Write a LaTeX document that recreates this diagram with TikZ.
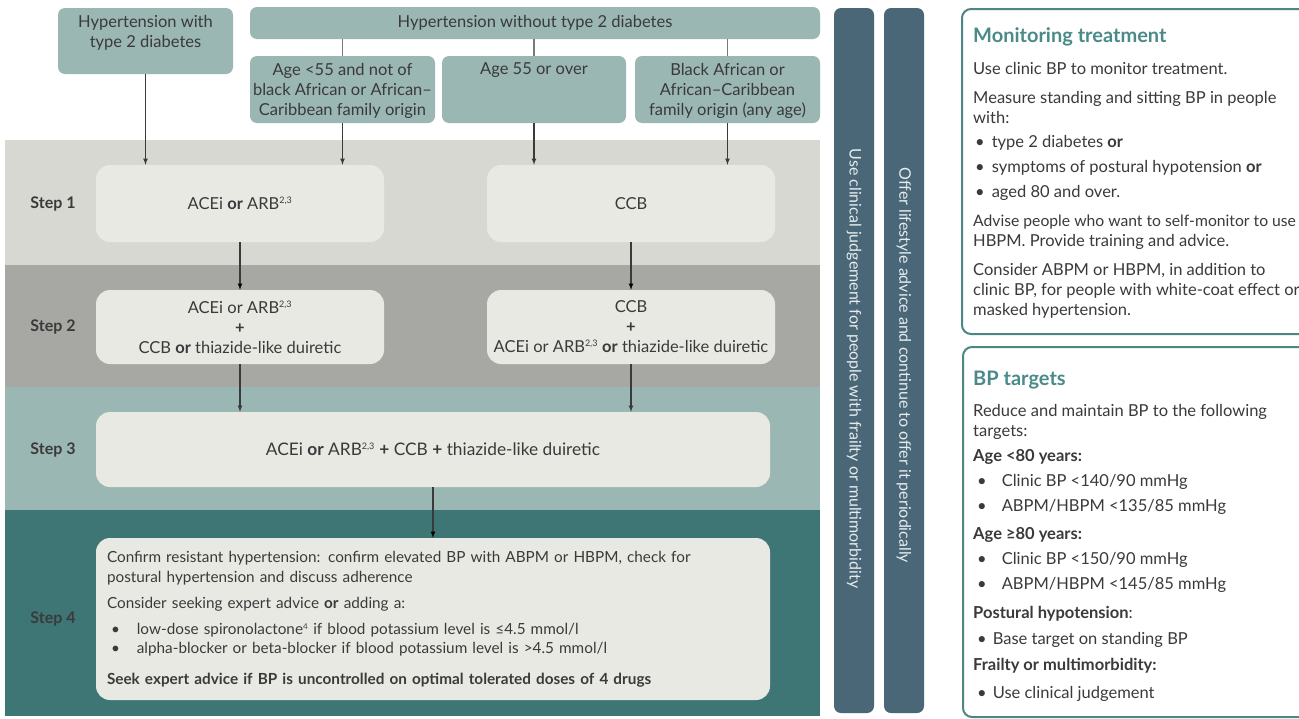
\documentclass[tikz,border=0pt]{standalone}
\usepackage{fontspec}
\setmainfont{Lato}
\usetikzlibrary{positioning}
\definecolor{hdrfill}{HTML}{9BB7B4}
\definecolor{bandA}{HTML}{D8D8D2}
\definecolor{bandB}{HTML}{A7A7A3}
\definecolor{bandC}{HTML}{9BB7B4}
\definecolor{bandD}{HTML}{3E7676}
\definecolor{boxfill}{HTML}{E9E9E4}
\definecolor{barfill}{HTML}{4A6778}
\definecolor{bartxt}{HTML}{E6ECEE}
\definecolor{panelline}{HTML}{4E8684}
\definecolor{titlecol}{HTML}{4A8A88}
\definecolor{txtgray}{HTML}{3A3A3A}
\definecolor{linkgray}{HTML}{7A7A7A}
\newcommand{\sups}{\textsuperscript{\fontsize{9}{9}\selectfont 2,3}}

\begin{document}
\begin{tikzpicture}[x=1pt,y=-1pt,>=latex,node distance=20pt,
    hdr/.style={fill=hdrfill,rounded corners=7pt},
    hdrtxt/.style={anchor=north,align=center,text=txtgray,inner sep=7pt,font=\fontsize{16.5}{20}\selectfont},
    drug/.style={fill=boxfill,rounded corners=14pt,align=center,text=txtgray,font=\fontsize{16.5}{20}\selectfont},
    steplbl/.style={text=txtgray,inner sep=0pt,font=\bfseries\fontsize{16}{18}\selectfont},
    vbar/.style={fill=barfill,rounded corners=7pt,rotate=-90,minimum width=705,minimum height=40,text=bartxt,font=\fontsize{16}{18}\selectfont},
    panel/.style={draw=panelline,line width=2pt,rounded corners=9pt,fill=white},
    ptitle/.style={anchor=west,inner sep=0pt,text=titlecol,font=\bfseries\fontsize{20}{22}\selectfont},
    ptxt/.style={anchor=north west,align=left,inner sep=0pt,text=txtgray,font=\fontsize{16.5}{20}\selectfont},
    arr/.style={->,draw=txtgray,line width=1.1pt},
    link/.style={draw=linkgray,line width=1.8pt}]
  \useasboundingbox (0,0) rectangle (1299,718);
  \clip (0,0) rectangle (1299,718);
  \fill[white] (0,0) rectangle (1299,718);

  % step bands
  \fill[bandA] (5,140) rectangle (820,265);
  \fill[bandB] (5,265) rectangle (820,387);
  \fill[bandC] (5,387) rectangle (820,510);
  \fill[bandD] (5,510) rectangle (820,716);

  % who the patient is
  \node[hdr,minimum width=175,minimum height=66,
    label={[hdrtxt]north:Hypertension with\\type 2 diabetes}] (t2d) at (145.5,41) {};
  \node[hdr,minimum width=570,minimum height=32,text=txtgray,
    font=\fontsize{16.5}{20}\selectfont] (nodia) at (535,23) {Hypertension without type 2 diabetes};
  \node[hdr,minimum width=185,minimum height=67,
    label={[hdrtxt]north:Age <55 and not of\\black African or African--\\Caribbean family origin}] (lt55) at (342.5,89.5) {};
  \node[hdr,minimum width=184,minimum height=67,
    label={[hdrtxt]north:Age 55 or over}] (a55) at (534,89.5) {};
  \node[hdr,minimum width=185,minimum height=67,
    label={[hdrtxt]north:Black African or\\African--Caribbean\\family origin (any age)}] (blk) at (727.5,89.5) {};

  % treatment steps
  \node[drug,minimum width=288,minimum height=77] (s1l) at (240,203.5) {ACEi \textbf{or} ARB\sups};
  \node[drug,minimum width=288,minimum height=77] (s1r) at (631,203.5) {CCB};
  \node[drug,minimum width=288,minimum height=74] (s2l) at (240,327) {ACEi or ARB\sups\\\textbf{+}\\CCB \textbf{or} thiazide-like duiretic};
  \node[drug,minimum width=288,minimum height=74] (s2r) at (631,327) {CCB\\\textbf{+}\\ACEi or ARB\sups{} \textbf{or} thiazide-like duiretic};
  \node[drug,minimum width=674,minimum height=75,font=\fontsize{17.3}{20}\selectfont] (s3) at (433,449.5) {ACEi \textbf{or} ARB\sups{} \textbf{+} CCB \textbf{+} thiazide-like duiretic};
  \node[drug,minimum width=674,minimum height=162,text width=652,align=left,
    font=\fontsize{15.3}{20}\selectfont] (s4) at (433,619) {%
    Confirm resistant hypertension: confirm elevated BP with ABPM or HBPM, check for\\
    postural hypertension and discuss adherence\\[6pt]
    Consider seeking expert advice \textbf{or} adding a:\\[6pt]
    \hspace{4pt}\textbullet\hspace{17pt}low-dose spironolactone\textsuperscript{\fontsize{8}{8}\selectfont 4} if blood potassium level is ≤4.5 mmol/l\\[-1pt]
    \hspace{4pt}\textbullet\hspace{17pt}alpha-blocker or beta-blocker if blood potassium level is >4.5 mmol/l\\[11pt]
    \textbf{Seek expert advice if BP is uncontrolled on optimal tolerated doses of 4 drugs}};

  \node[steplbl,left=of s1l] (st1) {Step 1};
  \node[steplbl,left=of s2l] (st2) {Step 2};
  \node[steplbl,left=of s3] (st3) {Step 3};
  \node[steplbl,left=of s4] (st4) {Step 4};

  % side bars
  \node[vbar] (clin) at (854,360.5) {\hspace*{16pt}Use clinical judgement for people with frailty or multimorbidity};
  \node[vbar] (life) at (904,360.5) {\hspace*{10pt}Offer lifestyle advice and continue to offer it periodically};

  % connectors
  \draw[link] (lt55.north) -- (lt55.north |- nodia.south);
  \draw[link] (a55.north) -- (a55.north |- nodia.south);
  \draw[link] (blk.north) -- (blk.north |- nodia.south);
  \draw[arr] (t2d.south) -- (t2d.south |- s1l.north);
  \draw[arr] (lt55.south) -- (lt55.south |- s1l.north);
  \draw[arr] (a55.south) -- (a55.south |- s1r.north);
  \draw[arr] (blk.south) -- (blk.south |- s1r.north);
  \draw[arr] (s2l.south) -- (s2l.south |- s3.north);
  \draw[arr] (s2r.south) -- (s2r.south |- s3.north);
  \draw[arr]
    (s1l) edge (s2l)
    (s1r) edge (s2r)
    (s3) edge (s4);

  % monitoring panel
  \node[panel,anchor=north west,minimum width=370,minimum height=325] (mon) at (961,8) {};
  \node[ptitle] (montitle) at (973,37) {Monitoring treatment};
  \node[ptxt] (montxt) at (973,62) {%
    Use clinic BP to monitor treatment.\\[9pt]
    Measure standing and sitting BP in people\\
    with:\\[4pt]
    \hspace{2pt}\textbullet\hspace{7pt}type 2 diabetes \textbf{or}\\[5pt]
    \hspace{2pt}\textbullet\hspace{7pt}symptoms of postural hypotension \textbf{or}\\[5pt]
    \hspace{2pt}\textbullet\hspace{7pt}aged 80 and over.\\[9pt]
    {\fontsize{15.7}{20}\selectfont Advise people who want to self-monitor to use}\\
    HBPM. Provide training and advice.\\[9pt]
    Consider ABPM or HBPM, in addition to\\
    clinic BP, for people with white-coat effect or\\
    masked hypertension.};

  % targets panel
  \node[panel,anchor=north west,minimum width=370,minimum height=370] (tgt) at (962,346) {};
  \node[ptitle] (tgttitle) at (973,380) {BP targets};
  \node[ptxt] (tgttxt) at (973,404) {%
    Reduce and maintain BP to the following\\
    targets:\\[5pt]
    \textbf{Age <80 years:}\\[5pt]
    \hspace{4pt}\textbullet\hspace{15pt}Clinic BP <140/90 mmHg\\[5pt]
    \hspace{4pt}\textbullet\hspace{15pt}ABPM/HBPM <135/85 mmHg\\[8pt]
    \textbf{Age ≥80 years:}\\[5pt]
    \hspace{4pt}\textbullet\hspace{15pt}Clinic BP <150/90 mmHg\\[5pt]
    \hspace{4pt}\textbullet\hspace{15pt}ABPM/HBPM <145/85 mmHg\\[9pt]
    \textbf{Postural hypotension}:\\[6pt]
    \hspace{4pt}\textbullet\hspace{6pt}Base target on standing BP\\[6pt]
    \textbf{Frailty or multimorbidity:}\\[8pt]
    \hspace{4pt}\textbullet\hspace{6pt}Use clinical judgement};
\end{tikzpicture}
\end{document}
